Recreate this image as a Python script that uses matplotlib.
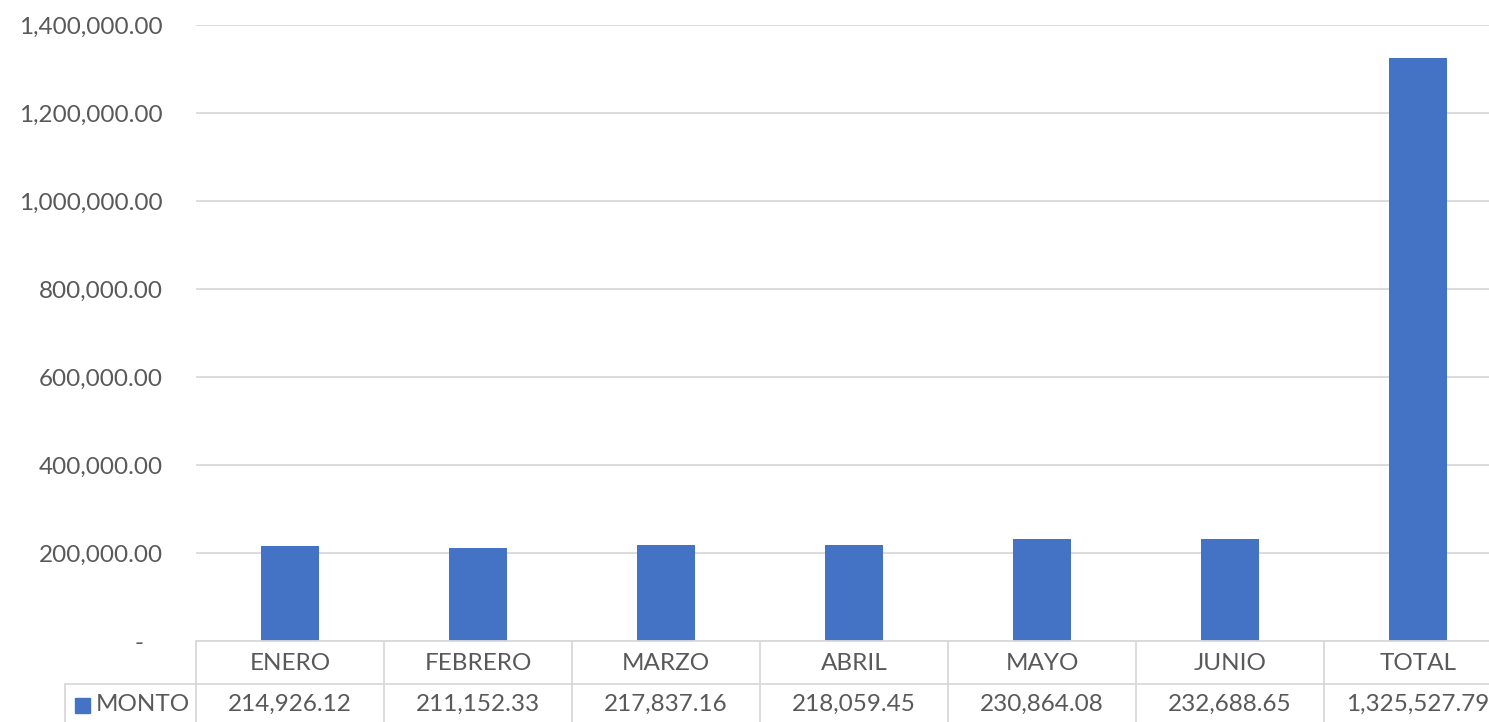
import matplotlib.pyplot as plt
from matplotlib.lines import Line2D
from matplotlib.patches import Rectangle
from matplotlib.ticker import FuncFormatter
import matplotlib.transforms as mtrans

meses = ["ENERO", "FEBRERO", "MARZO", "ABRIL", "MAYO", "JUNIO", "TOTAL"]
monto = [214926.12, 211152.33, 217837.16, 218059.45, 230864.08, 232688.65, 1325527.79]
serie = "MONTO"

azul = "#4472c4"
gris_txt = "#595959"
gris_lin = "#d9d9d9"
fs = 17.5

plt.rcParams['font.family'] = ['Lato', 'DejaVu Sans']

W, H = 1489, 722
fig = plt.figure(figsize=(W / 100, H / 100), dpi=100)
# plot area runs past the right edge, like the original
ax = fig.add_axes([196 / W, 1 - 641 / H, 1316 / W, 616 / H])

x = list(range(len(meses)))
ax.bar(x, monto, width=0.31, color=azul, zorder=3)
ax.set_xlim(-0.5, len(meses) - 0.5)
ax.set_ylim(0, 1400000)
ax.set_yticks(range(0, 1400001, 200000))


def fmt(v, pos):
    if v == 0:
        return "-   "
    return f"{v:,.2f}"


ax.yaxis.set_major_formatter(FuncFormatter(fmt))
ax.tick_params(axis='y', length=0, pad=24, labelsize=fs, labelcolor=gris_txt)
ax.tick_params(axis='x', bottom=False, labelbottom=False)
ax.grid(axis='y', color=gris_lin, linewidth=1.3, zorder=0)
for s in ax.spines.values():
    s.set_visible(False)

# data table below the plot
tr = mtrans.blended_transform_factory(ax.transData, fig.transFigure)
y0 = 1 - 641 / H
y1 = 1 - 684 / H
yb = 0.0
lk = dict(color=gris_lin, linewidth=1.3, clip_on=False)
fig.add_artist(Line2D([-0.5, len(meses)], [y0, y0], transform=tr, **lk))
fig.add_artist(Line2D([65 / W, 1], [y1, y1], transform=fig.transFigure, **lk))
fig.add_artist(Line2D([65 / W, 65 / W], [y1, yb], transform=fig.transFigure, **lk))
for b in range(len(meses) + 1):
    fig.add_artist(Line2D([b - 0.5, b - 0.5], [y0, yb], transform=tr, **lk))

for i, (m, v) in enumerate(zip(meses, monto)):
    fig.text(i, (y0 + y1) / 2 - 0.002, m, transform=tr, ha='center', va='center',
             fontsize=fs, color=gris_txt)
    fig.text(i, (y1 + yb) / 2 - 0.002, f"{v:,.2f}", transform=tr, ha='center',
             va='center', fontsize=fs, color=gris_txt)

fig.add_artist(Rectangle((75 / W, 1 - 713 / H), 15 / W, 15 / H,
                         transform=fig.transFigure, color=azul))
fig.text(96 / W, (y1 + yb) / 2 - 0.002, serie, ha='left', va='center',
         fontsize=fs, color=gris_txt)

fig.savefig("out.png", dpi=100)
